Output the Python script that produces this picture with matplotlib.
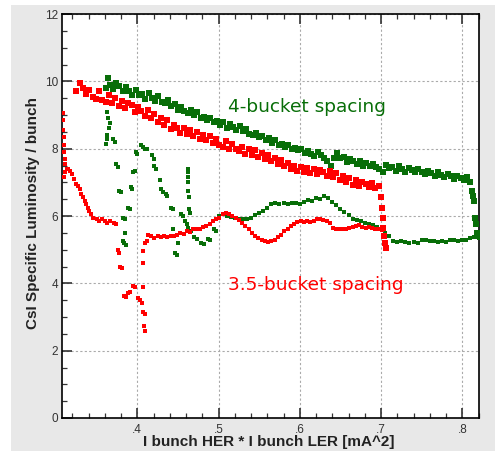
import matplotlib
matplotlib.use("Agg")
import matplotlib.pyplot as plt
from matplotlib.patches import Rectangle
from matplotlib.ticker import MultipleLocator, FixedLocator

# ---------------- data ----------------
red_main_x = [0.325,0.329,0.333,0.337,0.341,0.345,0.349,0.353,0.357,0.361,0.365,0.369,0.373,0.377,0.381,
              0.385,0.389,0.393,0.397,0.401,0.405,0.409,0.413,0.417,0.421,0.425,0.429,0.433,0.437,0.441,
              0.445,0.449,0.453,0.457,0.461,0.465,0.469,0.473,0.477,0.481,0.485,0.489,0.493,0.497,0.501,
              0.505,0.509,0.513,0.517,0.521,0.525,0.529,0.533,0.537,0.541,0.545,0.549,0.553,0.557,0.561,
              0.565,0.569,0.573,0.577,0.581,0.585,0.589,0.593,0.597,0.601,0.605,0.609,0.613,0.617,0.621,
              0.625,0.629,0.633,0.637,0.641,0.645,0.649,0.653,0.657,0.661,0.665,0.669,0.673,0.677,0.681,
              0.685,0.689,0.693,0.697,0.700,0.701,0.702,0.703,0.704,0.705,0.706]
red_main_y = [9.72,9.95,9.80,9.62,9.75,9.52,9.48,9.70,9.45,9.38,9.60,9.35,9.50,9.28,9.42,
              9.22,9.35,9.30,9.10,9.25,9.12,8.98,9.15,8.92,9.02,8.80,8.92,8.70,8.85,8.58,
              8.70,8.62,8.48,8.62,8.45,8.55,8.38,8.50,8.30,8.42,8.25,8.38,8.18,8.30,8.12,
              8.05,8.22,8.00,8.14,7.98,7.92,8.06,7.84,7.98,7.82,7.95,7.76,7.88,7.70,7.80,
              7.62,7.72,7.55,7.66,7.48,7.58,7.40,7.50,7.35,7.45,7.30,7.42,7.28,7.40,7.25,
              7.36,7.30,7.20,7.33,7.15,7.28,7.08,7.20,7.00,7.12,6.92,7.06,6.88,7.02,6.96,
              6.85,6.98,6.82,6.90,6.55,6.25,5.95,5.65,5.40,5.20,5.05]

red_low_x = [0.3095,0.311,0.313,0.315,0.317,0.320,0.322,0.325,0.327,0.329,0.331,0.333,0.335,0.337,
             0.339,0.341,0.343,0.346,0.350,0.353,0.356,0.360,0.363,0.367,0.371,0.374,
             0.376,0.377,0.379,0.381,0.384,0.386,0.388,0.391,0.395,0.397,0.401,0.403,0.406,0.407,
             0.409,0.408,0.409,0.407,0.407,0.407,0.410,0.412,
             0.413,0.417,0.421,0.425,0.429,0.433,0.437,0.441,0.445,0.449,0.453,0.457,0.461,0.465,
             0.469,0.473,0.477,0.481,0.485,0.489,0.493,0.497,0.501,0.505,0.509,0.513,0.517,0.521,
             0.525,0.529,0.533,0.537,0.541,0.545,0.549,0.553,0.557,0.561,0.565,0.569,0.573,0.577,
             0.581,0.585,0.589,0.593,0.597,0.601,0.605,0.609,0.613,0.617,0.621,0.625,0.629,0.633,
             0.637,0.641,0.645,0.649,0.653,0.657,0.661,0.665,0.669,0.673,0.677,0.681,0.685,0.689,
             0.693,0.697,0.701]
red_low_y = [7.15,7.30,7.40,7.40,7.35,7.25,7.10,6.95,6.88,6.80,6.65,6.55,6.45,6.35,
             6.25,6.15,6.05,5.95,5.90,5.85,5.90,5.85,5.80,5.85,5.78,5.75,
             5.00,4.90,4.50,4.45,3.62,3.60,3.72,3.75,3.92,3.90,3.55,3.50,3.42,3.15,
             3.10,2.72,2.58,3.90,4.60,4.95,5.20,5.25,
             5.45,5.40,5.35,5.40,5.38,5.40,5.38,5.42,5.40,5.45,5.50,5.48,5.55,5.52,
             5.60,5.62,5.60,5.68,5.70,5.75,5.85,5.90,5.95,6.05,6.08,6.05,6.00,5.95,
             5.88,5.80,5.70,5.62,5.50,5.42,5.35,5.30,5.25,5.22,5.25,5.30,5.38,5.45,
             5.55,5.62,5.70,5.75,5.82,5.85,5.82,5.85,5.83,5.85,5.90,5.92,5.88,5.85,
             5.80,5.65,5.62,5.60,5.62,5.60,5.63,5.68,5.70,5.72,5.68,5.65,5.68,5.63,
             5.60,5.62,5.58]

red_edge_x = [0.3085,0.309,0.309,0.3095,0.310,0.310,0.3105,0.311]
red_edge_y = [9.05,8.85,8.55,8.35,8.10,7.90,7.70,7.55]

green_main_x = [0.362,0.364,0.366,0.370,0.374,0.378,0.382,0.386,0.390,0.394,0.398,0.402,0.406,0.410,
                0.414,0.418,0.422,0.426,0.430,0.434,0.438,0.442,0.446,0.450,0.454,0.458,0.462,0.466,
                0.470,0.474,0.478,0.482,0.486,0.490,0.494,0.498,0.502,0.506,0.510,0.514,0.518,0.522,
                0.526,0.530,0.534,0.538,0.542,0.546,0.550,0.554,0.558,0.562,0.566,0.570,0.574,0.578,
                0.582,0.586,0.590,0.594,0.598,0.602,0.606,0.610,0.614,0.618,0.622,0.626,0.630,0.634,
                0.638,0.642,0.646,0.650,0.654,0.658,0.662,0.666,0.670,0.674,0.678,0.682,0.686,0.690,
                0.694,0.698,0.702,0.706,0.710,0.714,0.718,0.722,0.726,0.730,0.734,0.738,0.742,0.746,
                0.750,0.754,0.758,0.762,0.766,0.770,0.774,0.778,0.782,0.786,0.790,0.794,0.798,0.802,
                0.806,0.810,0.812,0.813,0.815,0.816,0.817,0.818,0.819]
green_main_y = [9.80,10.10,9.90,9.78,9.95,9.85,9.70,9.82,9.72,9.60,9.75,9.58,9.62,9.48,
                9.65,9.50,9.42,9.55,9.38,9.35,9.45,9.28,9.32,9.15,9.25,9.12,9.05,9.15,
                9.00,9.08,8.92,8.95,8.85,8.92,8.78,8.82,8.70,8.78,8.62,8.72,8.65,8.55,
                8.68,8.52,8.58,8.45,8.40,8.48,8.35,8.38,8.25,8.32,8.18,8.25,8.10,8.15,
                8.05,8.12,7.98,8.02,7.95,8.00,7.86,7.92,7.85,7.78,7.90,7.80,7.72,7.62,
                7.50,7.72,7.88,7.72,7.75,7.60,7.68,7.62,7.55,7.62,7.50,7.58,7.48,7.55,
                7.45,7.40,7.30,7.52,7.42,7.45,7.35,7.48,7.40,7.32,7.42,7.38,7.30,7.40,
                7.32,7.25,7.35,7.28,7.18,7.30,7.22,7.15,7.25,7.18,7.10,7.20,7.14,7.08,
                7.15,7.02,6.75,6.60,6.45,5.95,5.75,5.50,5.40]

green_low_x = [0.505,0.510,0.515,0.520,0.525,0.530,0.535,0.540,0.545,0.550,0.555,0.560,0.565,0.570,
               0.575,0.580,0.585,0.590,0.595,0.600,0.605,0.610,0.615,0.620,0.625,0.630,0.635,0.640,
               0.645,0.650,0.655,0.660,0.665,0.670,0.675,0.680,0.685,0.690,0.695,0.700,0.705,0.710,
               0.715,0.720,0.725,0.730,0.735,0.740,0.745,0.750,0.755,0.760,0.765,0.770,0.775,0.780,
               0.785,0.790,0.795,0.800,0.805,0.810,0.815,0.820]
green_low_y = [6.05,6.00,5.98,5.95,5.92,5.90,5.92,5.95,6.02,6.10,6.15,6.25,6.35,6.38,
               6.35,6.40,6.36,6.40,6.38,6.35,6.42,6.48,6.45,6.52,6.50,6.58,6.52,6.42,
               6.32,6.22,6.12,6.02,5.90,5.88,5.85,5.80,5.75,5.72,5.68,5.62,5.50,5.40,
               5.25,5.22,5.25,5.22,5.20,5.22,5.20,5.30,5.28,5.25,5.25,5.22,5.25,5.22,
               5.28,5.28,5.25,5.28,5.30,5.35,5.38,5.35]

green_streak_x = [0.362,0.363,0.364,0.366,0.365,0.363,0.362,0.363,0.370,0.372,
                  0.374,0.376,0.378,0.380,0.382,0.385,0.388,0.391,0.392,0.394,0.385,0.382,0.384,0.386,
                  0.395,0.397,0.399,0.400,0.404,0.407,0.410,0.412,
                  0.418,0.421,0.421,0.423,0.428,0.429,0.432,0.435,0.437,0.441,0.444,0.454,0.456,
                  0.459,0.461,0.463,0.466,0.470,0.473,0.478,0.482,0.487,0.490,0.494,0.497,0.500,
                  0.462,0.463,0.463,0.4625,0.463,0.4635,0.464,0.465,
                  0.444,0.447,0.449,0.450]
green_streak_y = [9.35,9.10,8.90,8.75,8.60,8.30,8.15,8.40,8.30,8.20,
                  7.55,7.45,6.75,6.70,5.95,5.90,6.25,6.20,6.85,6.80,5.50,5.25,5.20,5.15,
                  7.30,7.35,7.90,7.85,8.10,8.05,8.00,8.00,
                  7.80,7.70,7.50,7.40,7.08,6.80,6.70,6.65,6.60,6.25,6.20,6.05,6.00,
                  5.85,5.75,5.65,5.55,5.38,5.33,5.20,5.18,5.32,5.30,5.60,5.55,6.00,
                  7.40,7.30,7.15,7.00,6.75,6.55,6.20,6.10,
                  5.60,4.90,4.85,5.20]

x_ticks = [0.4, 0.5, 0.6, 0.7, 0.8]
x_tick_labels = [".4", ".5", ".6", ".7", ".8"]
y_ticks = [0, 2, 4, 6, 8, 10, 12]
y_tick_labels = ["0", "2", "4", "6", "8", "10", "12"]
label_4 = "4-bucket spacing"
label_35 = "3.5-bucket spacing"
x_label = "I bunch HER * I bunch LER [mA^2]"
y_label = "CsI Specific Luminosity / bunch"

RED = "#ff0000"
GREEN = "#086e08"

# ---------------- figure ----------------
W, H = 495, 451
fig = plt.figure(figsize=(W / 100, H / 100), dpi=100, facecolor="white")
bg = Rectangle((11 / W, 0), 1 - 11 / W, 1 - 5 / H, transform=fig.transFigure,
               facecolor="#e8e8e8", edgecolor="none", zorder=-10)
fig.patches.append(bg)

ax = fig.add_axes([62 / W, 1 - 418 / H, 417 / W, 404 / H])
ax.set_zorder(5)
ax.set_facecolor("white")

band = dict(linestyle="none", marker="s", markersize=3.8, markeredgewidth=0, zorder=3)
thin = dict(linestyle="none", marker="s", markersize=2.8, markeredgewidth=0, zorder=3)
ax.plot(green_main_x, green_main_y, color=GREEN, **band)
ax.plot(green_low_x, green_low_y, color=GREEN, **thin)
ax.plot(green_streak_x, green_streak_y, color=GREEN, **thin)
ax.plot(red_main_x, red_main_y, color=RED, **band)
ax.plot(red_low_x, red_low_y, color=RED, **thin)
ax.plot(red_edge_x, red_edge_y, color=RED, **thin)

ax.set_xlim(0.3073, 0.8206)
ax.set_ylim(0, 12)

ax.xaxis.set_major_locator(FixedLocator(x_ticks))
ax.set_xticklabels(x_tick_labels)
ax.xaxis.set_minor_locator(MultipleLocator(0.02))
ax.yaxis.set_major_locator(FixedLocator(y_ticks))
ax.set_yticklabels(y_tick_labels)
ax.yaxis.set_minor_locator(MultipleLocator(0.5))

ax.tick_params(axis="both", which="both", direction="in", top=True, right=False,
               colors="#333333", labelcolor="#333333")
ax.tick_params(axis="both", which="major", length=7, width=1.2, labelsize=8.5)
ax.tick_params(axis="both", which="minor", length=3.5, width=0.9)
ax.tick_params(axis="x", which="major", pad=4)
ax.tick_params(axis="y", which="major", pad=3)
for lab in ax.get_xticklabels() + ax.get_yticklabels():
    lab.set_fontfamily("Liberation Sans")

ax.grid(True, which="major", color="#aaaaaa", linestyle=(0, (2, 2)), linewidth=0.8, zorder=1)
ax.set_axisbelow(True)
for s in ax.spines.values():
    s.set_linewidth(1.2)
    s.set_color("black")

ax.text(0.5116, 9.09, label_4, color=GREEN, fontsize=13.3, family="DejaVu Sans",
        ha="left", va="baseline", zorder=4)
ax.text(0.5119, 3.80, label_35, color=RED, fontsize=13.3, family="DejaVu Sans",
        ha="left", va="baseline", zorder=4)

fig.text(269 / W, 1 - 442 / H, x_label, fontsize=11, fontweight="bold",
         family="Liberation Sans", ha="center", va="center", color="#222222")
fig.text(33 / W, 1 - 213 / H, y_label, fontsize=11, fontweight="bold",
         family="Liberation Sans", ha="center", va="center", rotation=90, color="#222222")

fig.savefig("out.png", dpi=100, facecolor=fig.get_facecolor())
